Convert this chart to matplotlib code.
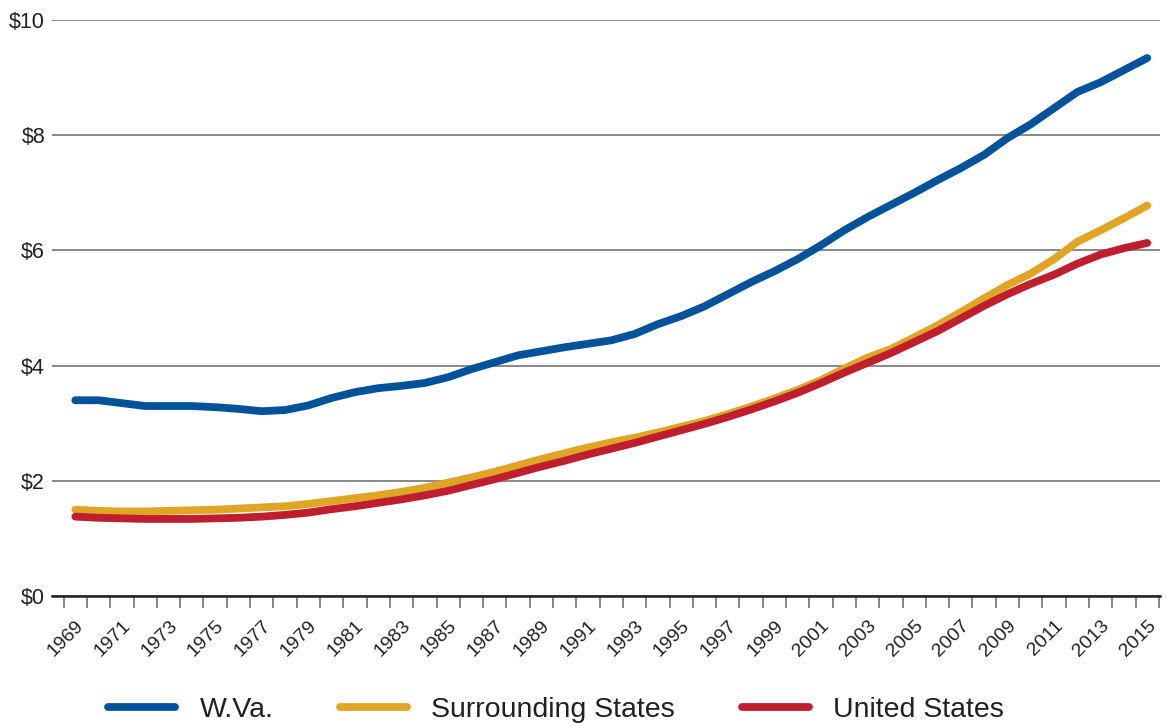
import numpy as np
import matplotlib
matplotlib.use('Agg')
import matplotlib.pyplot as plt
from matplotlib.ticker import FuncFormatter

plt.rcParams['font.family'] = ['Liberation Sans', 'DejaVu Sans']

years = list(range(1969, 2016))

wva = [3.40, 3.40, 3.35, 3.30, 3.30, 3.30, 3.28, 3.25, 3.21, 3.23,
       3.31, 3.44, 3.54, 3.61, 3.65, 3.70, 3.80, 3.94, 4.06, 4.18,
       4.25, 4.32, 4.38, 4.44, 4.55, 4.72, 4.86, 5.03, 5.24, 5.45,
       5.64, 5.85, 6.09, 6.35, 6.58, 6.79, 7.00, 7.22, 7.43, 7.66,
       7.95, 8.19, 8.47, 8.75, 8.92, 9.13, 9.34]

surrounding = [1.50, 1.48, 1.47, 1.47, 1.48, 1.49, 1.50, 1.52, 1.54, 1.56,
               1.60, 1.65, 1.70, 1.75, 1.81, 1.88, 1.97, 2.06, 2.16, 2.27,
               2.38, 2.48, 2.58, 2.67, 2.75, 2.84, 2.94, 3.04, 3.16, 3.29,
               3.43, 3.58, 3.75, 3.95, 4.14, 4.29, 4.49, 4.70, 4.93, 5.17,
               5.40, 5.60, 5.85, 6.15, 6.35, 6.56, 6.78]

us = [1.38, 1.36, 1.35, 1.34, 1.34, 1.34, 1.35, 1.36, 1.38, 1.41,
      1.45, 1.51, 1.56, 1.62, 1.68, 1.75, 1.83, 1.93, 2.03, 2.14,
      2.25, 2.35, 2.46, 2.56, 2.66, 2.77, 2.88, 2.99, 3.11, 3.24,
      3.38, 3.53, 3.70, 3.88, 4.05, 4.22, 4.41, 4.60, 4.82, 5.04,
      5.24, 5.42, 5.58, 5.77, 5.93, 6.04, 6.13]

labels = ['W.Va.', 'Surrounding States', 'United States']
colors = ['#00539B', '#E1A526', '#BE1E2D']
txt = '#231F20'

fig = plt.figure(figsize=(11.66, 7.27), dpi=100)
ax = fig.add_axes([0.0446, 0.180, 0.9503, 0.7925])

for series, lab, col in zip([wva, surrounding, us], labels, colors):
    ax.plot(years, series, color=col, lw=5.6, solid_capstyle='round',
            solid_joinstyle='round', label=lab, zorder=3)

ax.set_ylim(0, 10)
ax.set_xlim(1968.0, 2015.55)
ax.set_yticks([0, 2, 4, 6, 8, 10])
ax.yaxis.set_major_formatter(FuncFormatter(lambda v, p: '$%d' % v))
ax.grid(axis='y', color='#7f7f7f', lw=1.3, zorder=1)

for s in ['left', 'right', 'top']:
    ax.spines[s].set_visible(False)
ax.spines['bottom'].set_color('#231F20')
ax.spines['bottom'].set_linewidth(1.8)
ax.spines['bottom'].set_zorder(4)

ax.set_xticks(years[::2])
ax.set_xticklabels([str(y) for y in years[::2]], rotation=45, ha='right',
                   rotation_mode='anchor', fontsize=14, color=txt)
ax.set_xticks(np.arange(1968.5, 2016, 1), minor=True)
ax.tick_params(axis='x', which='major', length=0, pad=15)
ax.tick_params(axis='x', which='minor', length=8.5, width=1.1, color='#666666')
ax.tick_params(axis='y', length=0, pad=5, labelsize=15.5, labelcolor=txt)

fig.legend(loc='center', bbox_to_anchor=(0.477, 0.023), ncol=3,
           frameon=False, fontsize=20.5, handlelength=2.35, handletextpad=0.85,
           columnspacing=2.35, labelcolor=txt)

fig.savefig('out.png', dpi=100)
